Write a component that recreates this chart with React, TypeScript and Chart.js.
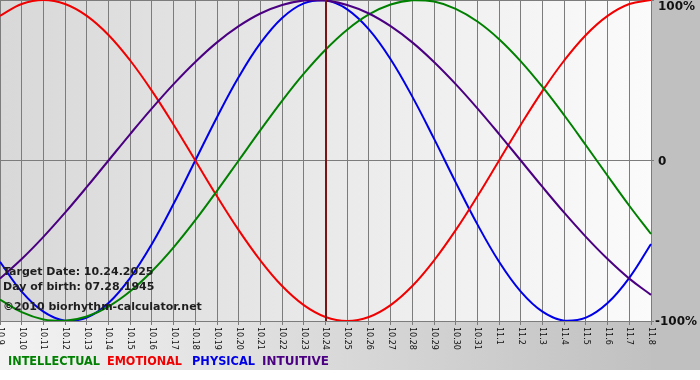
import React, { useEffect, useRef } from "react";
import { Chart, registerables } from "chart.js";

Chart.register(...registerables);

const dayLabels = ["10.9","10.10","10.11","10.12","10.13","10.14","10.15","10.16","10.17","10.18","10.19","10.20","10.21","10.22","10.23","10.24","10.25","10.26","10.27","10.28","10.29","10.30","10.31","11.1","11.2","11.3","11.4","11.5","11.6","11.7","11.8"];

const intellectual = [-86.6,-94.5,-99.0,-99.9,-97.2,-91.0,-81.5,-69.0,-54.1,-37.2,-18.9,0,18.9,37.2,54.1,69.0,81.5,91.0,97.2,99.9,99.0,94.5,86.6,75.6,61.8,45.8,28.2,9.5,-9.5,-28.2,-45.8];
const emotional = [90.1,97.5,100,97.5,90.1,78.2,62.3,43.4,22.3,0,-22.3,-43.4,-62.3,-78.2,-90.1,-97.5,-100,-97.5,-90.1,-78.2,-62.3,-43.4,-22.3,0,22.3,43.4,62.3,78.2,90.1,97.5,100];
const physical = [-63.1,-81.7,-94.2,-99.8,-97.9,-88.8,-73.1,-52.0,-27.0,0,27.0,52.0,73.1,88.8,97.9,99.8,94.2,81.7,63.1,39.8,13.6,-13.6,-39.8,-63.1,-81.7,-94.2,-99.8,-97.9,-88.8,-73.1,-52.0];
const intuitive = [-73.6,-61.4,-47.6,-32.5,-16.5,0,16.5,32.5,47.6,61.4,73.6,83.7,91.6,96.9,99.7,99.7,96.9,91.6,83.7,73.6,61.4,47.6,32.5,16.5,0,-16.5,-32.5,-47.6,-61.4,-73.6,-83.7];

const seriesNames = ["INTELLECTUAL", "EMOTIONAL", "PHYSICAL", "INTUITIVE"];
const seriesColors = ["#008000", "#f00000", "#0000e6", "#4b0082"];
const targetIndex = 15;
const infoLines = ["Target Date: 10.24.2025", "Day of birth: 07.28.1945", "\u00A92010 biorhythm-calculator.net"];
const yTickValues = [100, 0, -100];
const yTickTexts = ["100%", "0", "-100%"];

const W = 700;
const H = 380;

export default function App() {
  const ref = useRef<HTMLCanvasElement | null>(null);

  useEffect(() => {
    const canvas = ref.current;
    if (!canvas) return;

    const decor = {
      id: "decor",
      beforeDraw(chart: any) {
        const { ctx, chartArea } = chart;
        const { left, right, top, bottom } = chartArea;
        ctx.save();
        ctx.fillStyle = "#ffffff";
        ctx.fillRect(0, 0, W, H);
        const g = ctx.createLinearGradient(0, 0, W, 0);
        g.addColorStop(0, "#f3f3f3");
        g.addColorStop(1, "#bdbdbd");
        ctx.fillStyle = g;
        ctx.fillRect(0, 0, W, 370);
        ctx.fillStyle = "#c0c0c0";
        ctx.fillRect(right, 0, W - right, 370);
        const g2 = ctx.createLinearGradient(left, 0, right, 0);
        g2.addColorStop(0, "#d8d8d8");
        g2.addColorStop(1, "#fbfbfb");
        ctx.fillStyle = g2;
        ctx.fillRect(left, top, right - left, bottom - top);
        ctx.restore();
      },
      afterDatasetsDraw(chart: any) {
        const { ctx, chartArea } = chart;
        const xs = chart.scales.x;
        const x = Math.round(xs.getPixelForValue(targetIndex));
        ctx.save();
        ctx.strokeStyle = "#7a1515";
        ctx.lineWidth = 2;
        ctx.beginPath();
        ctx.moveTo(x, chartArea.top);
        ctx.lineTo(x, chartArea.bottom);
        ctx.stroke();
        ctx.restore();
      },
      afterDraw(chart: any) {
        const { ctx, chartArea } = chart;
        const xs = chart.scales.x;
        const ys = chart.scales.y;
        ctx.save();
        // x labels rotated clockwise
        ctx.fillStyle = "#111111";
        ctx.font = "8px 'DejaVu Sans', Verdana, sans-serif";
        ctx.textAlign = "left";
        ctx.textBaseline = "middle";
        dayLabels.forEach((lab, i) => {
          const px = xs.getPixelForValue(i);
          ctx.save();
          ctx.translate(px, chartArea.bottom + 6);
          ctx.rotate(Math.PI / 2);
          ctx.fillText(lab, 0, 0);
          ctx.restore();
        });
        // y labels
        ctx.font = "bold 12px 'DejaVu Sans', Verdana, sans-serif";
        ctx.fillStyle = "#111111";
        yTickValues.forEach((v, i) => {
          let py = ys.getPixelForValue(v);
          if (i === 0) py += 7;
          else py += 1;
          const px = i === 2 ? chartArea.right + 4 : chartArea.right + 7;
          ctx.fillText(yTickTexts[i], px, py);
        });
        // info lines
        ctx.font = "bold 11px 'DejaVu Sans', Verdana, sans-serif";
        ctx.fillStyle = "#1e1e1e";
        const infoY = [272, 287, 307];
        infoLines.forEach((t, i) => {
          ctx.fillText(t, 3, infoY[i], i === 2 ? 200 : 152);
        });
        // legend
        ctx.font = "bold 12px 'DejaVu Sans', Verdana, sans-serif";
        const legX = [8, 107, 192, 262];
        const legW = [92, 75, 63, 67];
        seriesNames.forEach((n, i) => {
          ctx.fillStyle = seriesColors[i];
          ctx.fillText(n, legX[i], 362, legW[i]);
        });
        ctx.restore();
      },
    };

    const mk = (label: string, data: number[], color: string) => ({
      label,
      data,
      borderColor: color,
      backgroundColor: color,
      borderWidth: 2,
      pointRadius: 0,
      fill: false,
      tension: 0.4,
    });

    const chart = new Chart(canvas, {
      type: "line",
      data: {
        labels: dayLabels,
        datasets: [
          mk(seriesNames[3], intuitive, seriesColors[3]),
          mk(seriesNames[0], intellectual, seriesColors[0]),
          mk(seriesNames[1], emotional, seriesColors[1]),
          mk(seriesNames[2], physical, seriesColors[2]),
        ],
      },
      options: {
        animation: false,
        responsive: false,
        maintainAspectRatio: false,
        devicePixelRatio: 1,
        layout: { padding: 0 },
        plugins: {
          legend: { display: false },
          tooltip: { enabled: false },
        },
        scales: {
          x: {
            type: "category",
            offset: false,
            border: { display: false },
            grid: { color: "#7c7c7c", lineWidth: 1, tickLength: 4, drawTicks: true },
            ticks: { display: false },
            afterFit(scale: any) {
              scale.height = 59;
            },
          },
          y: {
            position: "right",
            min: -100,
            max: 100,
            border: { display: false },
            ticks: { display: false, stepSize: 100 },
            grid: { color: "#7c7c7c", lineWidth: 1, tickLength: 3, drawTicks: true },
            afterFit(scale: any) {
              scale.width = 49;
            },
          },
        },
      },
      plugins: [decor],
    });

    return () => {
      chart.destroy();
    };
  }, []);

  return (
    <div style={{ position: "fixed", left: 0, top: 0, width: W, height: H }}>
      <canvas ref={ref} width={W} height={H} style={{ display: "block", width: W, height: H }} />
    </div>
  );
}
